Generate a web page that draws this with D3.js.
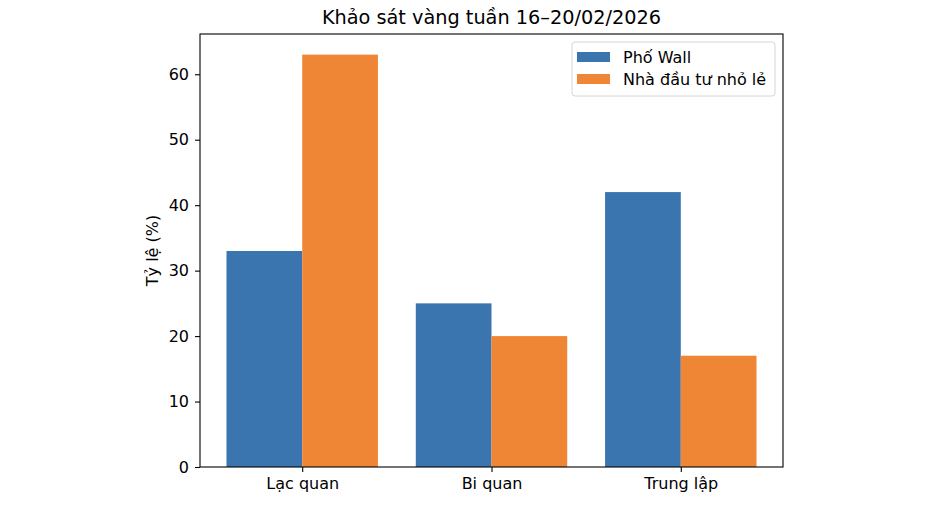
<!DOCTYPE html>
<html>
<head>
<meta charset="utf-8">
<script src="https://cdn.jsdelivr.net/npm/d3@7"></script>
<style>
  body { margin: 0; background: #fff; }
  text { font-family: "DejaVu Sans", sans-serif; fill: #000; }
</style>
</head>
<body>
<div id="chart"></div>
<script>
// data
var categories = ["Lạc quan", "Bi quan", "Trung lập"];
var seriesNames = ["Phố Wall", "Nhà đầu tư nhỏ lẻ"];
var wallStreet = [33, 25, 42];
var mainStreet = [63, 20, 17];
var yTicks = [0, 10, 20, 30, 40, 50, 60];
var colors = ["#3b75af", "#ef8636"];

var W = 952, H = 514;
var margin = {top: 34, right: 169, bottom: 47, left: 200},
    width = W - margin.left - margin.right,
    height = H - margin.top - margin.bottom;
var fs = "16px";

var svg = d3.select("#chart")
  .append("svg")
    .attr("width", W)
    .attr("height", H);

var g = svg.append("g")
    .attr("transform", "translate(" + margin.left + "," + margin.top + ")");

// matplotlib-like limits: bars of width 0.4 around 0,1,2 plus 5% margins
var barW = 0.4;
var lo = -barW, hi = categories.length - 1 + barW, pad = (hi - lo) * 0.05;
var x = d3.scaleLinear().domain([lo - pad, hi + pad]).range([0, width]);
var y = d3.scaleLinear().domain([0, d3.max(mainStreet.concat(wallStreet)) * 1.05]).range([height, 0]);

var series = [wallStreet, mainStreet];
series.forEach(function(vals, s) {
  g.selectAll(".bar" + s)
    .data(vals)
    .enter().append("rect")
      .attr("x", function(d, i) { return x(i - barW + s * barW); })
      .attr("width", x(barW) - x(0))
      .attr("y", function(d) { return y(d); })
      .attr("height", function(d) { return y(0) - y(d); })
      .attr("fill", colors[s]);
});

// axes
var yAxis = g.append("g")
  .call(d3.axisLeft(y).tickValues(yTicks).tickSize(5).tickPadding(6).tickFormat(d3.format("d")));
var xAxis = g.append("g")
  .attr("transform", "translate(0," + height + ")")
  .call(d3.axisBottom(x).tickValues(d3.range(categories.length)).tickSize(5).tickPadding(6)
        .tickFormat(function(d) { return categories[d]; }));
[xAxis, yAxis].forEach(function(a) {
  a.select(".domain").remove();
  a.selectAll("line").attr("stroke", "#000").attr("stroke-width", 1.1);
  a.selectAll("text").style("font-size", fs).style("font-family", "DejaVu Sans, sans-serif");
});

// frame
g.append("rect")
  .attr("width", width).attr("height", height)
  .attr("fill", "none").attr("stroke", "#000").attr("stroke-width", 1.1);

// labels
svg.append("text")
  .attr("x", margin.left + width / 2).attr("y", 24)
  .attr("text-anchor", "middle")
  .style("font-size", "19.3px")
  .text("Khảo sát vàng tuần 16–20/02/2026");

svg.append("text")
  .attr("transform", "translate(158," + (margin.top + height / 2) + ") rotate(-90)")
  .attr("text-anchor", "middle")
  .style("font-size", fs)
  .text("Tỷ lệ (%)");

// legend
var leg = g.append("g").attr("transform", "translate(" + (width - 211) + ",8)");
leg.append("rect")
  .attr("width", 203).attr("height", 54).attr("rx", 3)
  .attr("fill", "#fff").attr("fill-opacity", 0.8)
  .attr("stroke", "#d6d6d6");
seriesNames.forEach(function(name, i) {
  leg.append("rect")
    .attr("x", 5).attr("y", 10 + i * 22)
    .attr("width", 33).attr("height", 10)
    .attr("fill", colors[i]);
  leg.append("text")
    .attr("x", 51).attr("y", 21 + i * 22)
    .style("font-size", fs)
    .text(name);
});
</script>
</body>
</html>
